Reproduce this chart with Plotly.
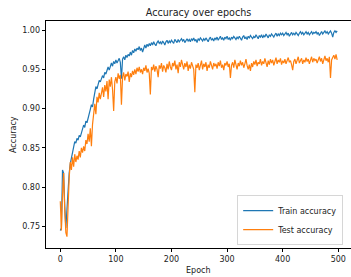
import plotly.graph_objects as go

epochs = list(range(0, 500, 2))

train_acc = [
    0.745, 0.748, 0.822, 0.818, 0.775, 0.748, 0.772, 0.800, 0.818, 0.830,
    0.838, 0.843, 0.849, 0.858, 0.856, 0.862, 0.860, 0.866, 0.864, 0.870,
    0.874, 0.879, 0.876, 0.884, 0.882, 0.889, 0.893, 0.899, 0.905, 0.902,
    0.912, 0.922, 0.928, 0.925, 0.932, 0.936, 0.934, 0.940, 0.942, 0.939,
    0.946, 0.944, 0.950, 0.953, 0.949, 0.955, 0.958, 0.954, 0.960, 0.957,
    0.962, 0.958, 0.961, 0.964, 0.959, 0.938, 0.963, 0.966, 0.962, 0.968,
    0.965, 0.969, 0.967, 0.972, 0.968, 0.974, 0.971, 0.976, 0.973, 0.977,
    0.975, 0.979, 0.974, 0.977, 0.972, 0.978, 0.981, 0.977, 0.982, 0.979,
    0.983, 0.980, 0.984, 0.981, 0.985, 0.982, 0.980, 0.984, 0.986, 0.983,
    0.985, 0.982, 0.986, 0.984, 0.981, 0.985, 0.987, 0.983, 0.986, 0.984,
    0.987, 0.985, 0.983, 0.988, 0.986, 0.984, 0.988, 0.985, 0.987, 0.989,
    0.986, 0.988, 0.984, 0.987, 0.989, 0.986, 0.988, 0.985, 0.989, 0.987,
    0.990, 0.986, 0.988, 0.984, 0.989, 0.987, 0.990, 0.988, 0.986, 0.989,
    0.987, 0.990, 0.988, 0.985, 0.989, 0.991, 0.987, 0.989, 0.986, 0.990,
    0.988, 0.991, 0.987, 0.989, 0.992, 0.988, 0.990, 0.987, 0.991, 0.989,
    0.992, 0.988, 0.990, 0.987, 0.991, 0.989, 0.992, 0.990, 0.988, 0.991,
    0.989, 0.992, 0.990, 0.987, 0.991, 0.993, 0.989, 0.991, 0.988, 0.992,
    0.990, 0.993, 0.991, 0.989, 0.992, 0.990, 0.994, 0.991, 0.989, 0.993,
    0.991, 0.994, 0.990, 0.993, 0.991, 0.995, 0.992, 0.990, 0.994, 0.992,
    0.995, 0.993, 0.991, 0.994, 0.996, 0.992, 0.995, 0.993, 0.996, 0.994,
    0.996, 0.993, 0.995, 0.997, 0.994, 0.996, 0.992, 0.995, 0.997, 0.994,
    0.996, 0.994, 0.997, 0.995, 0.993, 0.996, 0.998, 0.995, 0.997, 0.994,
    0.996, 0.998, 0.995, 0.997, 0.994, 0.996, 0.998, 0.995, 0.997, 0.996,
    0.998, 0.995, 0.997, 0.993, 0.996, 0.998, 0.995, 0.997, 0.999, 0.996,
    0.998, 0.995, 0.997, 0.999, 0.996, 0.991, 0.997, 0.999, 0.997, 0.999,
]

test_acc = [
    0.782, 0.745, 0.790, 0.818, 0.772, 0.742, 0.737, 0.778, 0.812, 0.832,
    0.822, 0.838, 0.826, 0.842, 0.832, 0.840, 0.835, 0.846, 0.838, 0.850,
    0.844, 0.852, 0.846, 0.860, 0.855, 0.868, 0.858, 0.875, 0.852, 0.880,
    0.898, 0.906, 0.893, 0.915, 0.908, 0.920, 0.912, 0.918, 0.927, 0.915,
    0.930, 0.922, 0.935, 0.912, 0.937, 0.928, 0.940, 0.924, 0.897, 0.934,
    0.940, 0.932, 0.945, 0.938, 0.943, 0.905, 0.940, 0.946, 0.936, 0.944,
    0.941, 0.947, 0.934, 0.945, 0.940, 0.948, 0.943, 0.950, 0.944, 0.952,
    0.947, 0.953, 0.946, 0.950, 0.944, 0.952, 0.948, 0.955, 0.946, 0.951,
    0.945, 0.918, 0.953, 0.949, 0.956, 0.947, 0.954, 0.950, 0.940, 0.955,
    0.951, 0.958, 0.947, 0.955, 0.952, 0.946, 0.957, 0.950, 0.960, 0.953,
    0.949, 0.958, 0.954, 0.961, 0.950, 0.956, 0.945, 0.959, 0.953, 0.962,
    0.955, 0.950, 0.958, 0.953, 0.960, 0.948, 0.956, 0.951, 0.959, 0.954,
    0.950, 0.921, 0.956, 0.952, 0.958, 0.949, 0.955, 0.961, 0.950, 0.957,
    0.953, 0.959, 0.948, 0.956, 0.952, 0.960, 0.955, 0.950, 0.958, 0.954,
    0.957, 0.951, 0.959, 0.954, 0.961, 0.952, 0.956, 0.949, 0.958, 0.955,
    0.960, 0.953, 0.957, 0.939, 0.955, 0.959, 0.952, 0.962, 0.956, 0.950,
    0.958, 0.954, 0.961, 0.955, 0.959, 0.952, 0.957, 0.963, 0.955, 0.950,
    0.956, 0.948, 0.958, 0.953, 0.960, 0.956, 0.962, 0.954, 0.959, 0.957,
    0.963, 0.955, 0.960, 0.957, 0.964, 0.958, 0.953, 0.961, 0.956, 0.963,
    0.958, 0.962, 0.955, 0.960, 0.965, 0.957, 0.962, 0.959, 0.964, 0.956,
    0.961, 0.958, 0.963, 0.957, 0.962, 0.965, 0.959, 0.961, 0.956, 0.949,
    0.960, 0.963, 0.957, 0.962, 0.966, 0.958, 0.961, 0.964, 0.957, 0.962,
    0.959, 0.965, 0.960, 0.963, 0.957, 0.962, 0.966, 0.959, 0.964, 0.961,
    0.963, 0.958, 0.962, 0.966, 0.960, 0.964, 0.957, 0.963, 0.967, 0.961,
    0.964, 0.959, 0.966, 0.939, 0.962, 0.965, 0.968, 0.963, 0.969, 0.962,
]

y_ticks = [0.75, 0.80, 0.85, 0.90, 0.95, 1.00]
x_ticks = [0, 100, 200, 300, 400, 500]

FONT = "DejaVu Sans"
W, H = 351, 277
L, R, T, B = 46, 0, 21, 29

fig = go.Figure()
fig.add_trace(go.Scatter(x=epochs, y=train_acc, mode="lines", name="Train accuracy",
                         line=dict(color="#1f77b4", width=1.2)))
fig.add_trace(go.Scatter(x=epochs, y=test_acc, mode="lines", name="Test accuracy",
                         line=dict(color="#ff7f0e", width=1.2)))

axis_common = dict(showgrid=False, zeroline=False, showline=True, linecolor="#000",
                   linewidth=0.8, mirror=True, ticks="outside", ticklen=3.5,
                   tickwidth=0.8, tickcolor="#000", automargin=False,
                   tickfont=dict(family=FONT, size=8, color="#222"))

fig.update_layout(
    template="none",
    width=W, height=H,
    margin=dict(l=L, r=R, t=T, b=B, pad=0, autoexpand=False),
    paper_bgcolor="white", plot_bgcolor="white",
    font=dict(family=FONT, size=8, color="#222"),
    title=dict(text="Accuracy over epochs", x=0.5, xref="paper",
               y=1 - 12.3 / H, yref="container", yanchor="middle", xanchor="center",
               font=dict(family=FONT, size=9.6, color="#222")),
    xaxis=dict(range=[-25.7, 522.9], tickvals=x_ticks, ticktext=[str(v) for v in x_ticks],
               **axis_common),
    yaxis=dict(range=[0.7226, 1.0115], tickvals=y_ticks,
               ticktext=[f"{v:.2f}" for v in y_ticks], **axis_common),
    legend=dict(x=0.975, y=0.012, xanchor="right", yanchor="bottom",
                bgcolor="rgba(255,255,255,0.8)", bordercolor="#cccccc", borderwidth=0.8,
                font=dict(family=FONT, size=8, color="#222"), tracegroupgap=0,
                itemwidth=30),
    annotations=[
        dict(text="Epoch", xref="paper", yref="paper", x=0.5, y=0, yshift=-(270 - 248),
             showarrow=False, yanchor="middle", font=dict(family=FONT, size=8, color="#222")),
        dict(text="Accuracy", xref="paper", yref="paper", x=0, xshift=-(46 - 13.5), y=0.5,
             textangle=-90, showarrow=False, xanchor="center",
             font=dict(family=FONT, size=8, color="#222")),
    ],
)

fig.write_html("out.html", config={"displayModeBar": False},
               post_script="document.body.style.margin='0';document.body.style.overflow='hidden';")
